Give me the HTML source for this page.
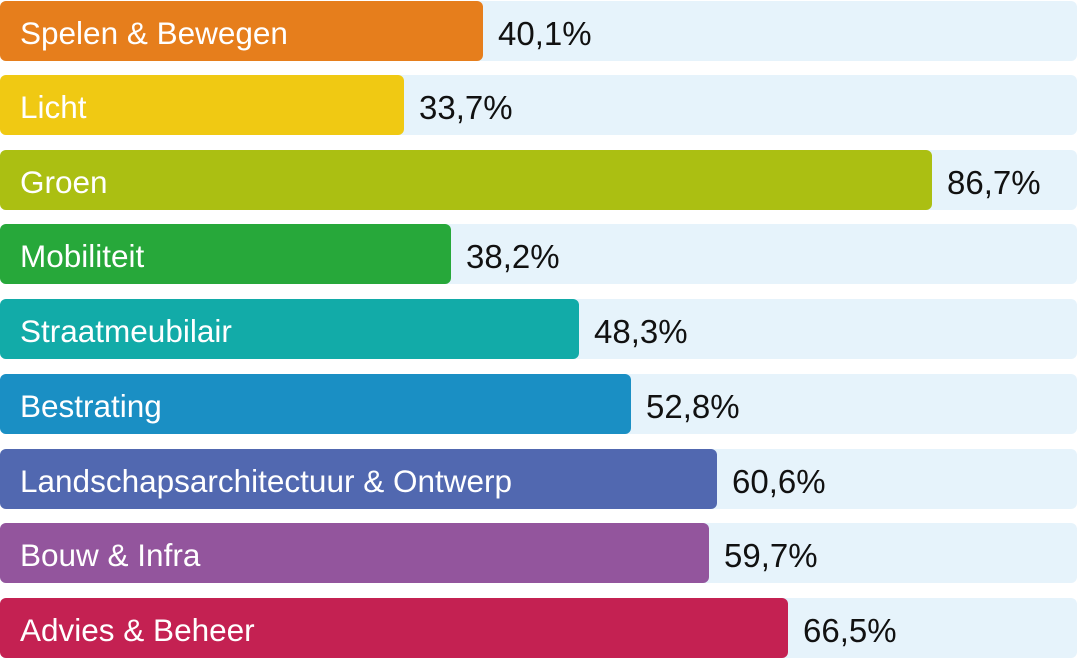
<!DOCTYPE html>
<html><head><style>
body{margin:0;width:1077px;height:659px;background:#fff;overflow:hidden;font-family:"Liberation Sans",sans-serif}
.row{position:absolute;left:0;width:1077px;height:60px;background:#e6f3fb;border-radius:6px}
.bar{position:absolute;left:0;top:0;height:60px;border-radius:6px;color:#fff;font-size:31.5px;line-height:64px;padding-left:20px;box-sizing:border-box;white-space:nowrap}
.val{position:absolute;top:0;line-height:65px;font-size:33px;color:#111}
</style></head><body>
<div class="row" style="top:1px"><div class="bar" style="width:483px;background:#e67e1c">Spelen &amp; Bewegen</div><div class="val" style="left:498px">40,1%</div></div>
<div class="row" style="top:75px"><div class="bar" style="width:404px;background:#f0c913">Licht</div><div class="val" style="left:419px">33,7%</div></div>
<div class="row" style="top:150px"><div class="bar" style="width:932px;background:#abbf12">Groen</div><div class="val" style="left:947px">86,7%</div></div>
<div class="row" style="top:224px"><div class="bar" style="width:451px;background:#27a83a">Mobiliteit</div><div class="val" style="left:466px">38,2%</div></div>
<div class="row" style="top:299px"><div class="bar" style="width:579px;background:#12aba8">Straatmeubilair</div><div class="val" style="left:594px">48,3%</div></div>
<div class="row" style="top:374px"><div class="bar" style="width:631px;background:#1a8fc4">Bestrating</div><div class="val" style="left:646px">52,8%</div></div>
<div class="row" style="top:449px"><div class="bar" style="width:717px;background:#5168b0">Landschapsarchitectuur &amp; Ontwerp</div><div class="val" style="left:732px">60,6%</div></div>
<div class="row" style="top:523px"><div class="bar" style="width:709px;background:#93559d">Bouw &amp; Infra</div><div class="val" style="left:724px">59,7%</div></div>
<div class="row" style="top:598px"><div class="bar" style="width:788px;background:#c42152">Advies &amp; Beheer</div><div class="val" style="left:803px">66,5%</div></div>
</body></html>
